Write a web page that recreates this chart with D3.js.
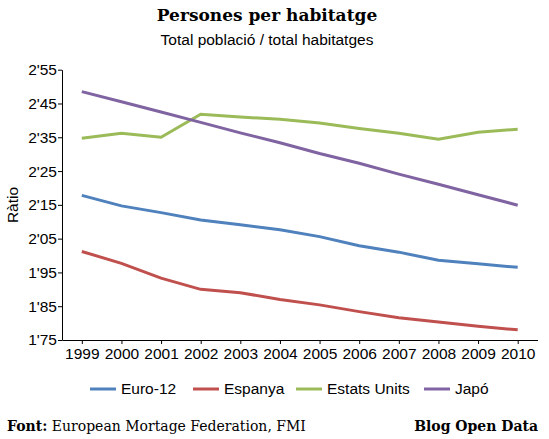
<!DOCTYPE html>
<meta charset="utf-8">
<style>
body { margin: 0; background: #fff; }
text { font-family: "Liberation Sans", Arial, sans-serif; }
</style>
<svg width="549" height="439"></svg>
<script src="https://cdn.jsdelivr.net/npm/d3@7"></script>
<script>

var years = ["1999","2000","2001","2002","2003","2004","2005","2006","2007","2008","2009","2010"];
var euro12 = [2.178,2.147,2.127,2.105,2.091,2.076,2.056,2.029,2.010,1.986,1.976,1.965];
var espanya = [2.012,1.977,1.933,1.900,1.890,1.870,1.854,1.834,1.816,1.803,1.791,1.780];
var estatsUnits = [2.347,2.362,2.350,2.418,2.410,2.403,2.392,2.376,2.362,2.344,2.365,2.374];
var japo = [2.485,2.455,2.425,2.394,2.363,2.334,2.302,2.273,2.241,2.211,2.180,2.149];
var yTicks = [1.75,1.85,1.95,2.05,2.15,2.25,2.35,2.45,2.55];

var series = [
  {name: "Euro-12", values: euro12, color: "#4f81bd"},
  {name: "Espanya", values: espanya, color: "#c0504d"},
  {name: "Estats Units", values: estatsUnits, color: "#9bbb59"},
  {name: "Japó", values: japo, color: "#8064a2"}
];

var svg = d3.select("svg");

var x = d3.scalePoint()
    .domain(years)
    .range([62, 537.5])
    .padding(0.5);

var y = d3.scaleLinear()
    .domain([1.75, 2.55])
    .range([340, 69.7]);

// titles
svg.append("text")
    .attr("x", 267).attr("y", 21)
    .attr("text-anchor", "middle")
    .style("font-family", "'DejaVu Serif', serif")
    .style("font-weight", "bold")
    .style("font-size", "17px")
    .text("Persones per habitatge");

svg.append("text")
    .attr("x", 267).attr("y", 45)
    .attr("text-anchor", "middle")
    .style("font-size", "15.5px")
    .text("Total població / total habitatges");

// axes
var yAxis = svg.append("g")
    .attr("transform", "translate(62,0)")
    .call(d3.axisLeft(y).tickValues(yTicks).tickSize(4).tickSizeOuter(0)
      .tickFormat(function(d) { return d3.format(".2f")(d).replace(".", "'"); }));

var xAxis = svg.append("g")
    .attr("transform", "translate(0,340)")
    .call(d3.axisBottom(x).tickSize(4).tickSizeOuter(0));

[yAxis, xAxis].forEach(function(g) {
  g.selectAll("text").style("font-size", "15.5px").attr("fill", "#000")
    .style("font-family", "'Liberation Sans', Arial, sans-serif");
  g.select(".domain").attr("stroke", "#000");
  g.selectAll(".tick line").attr("stroke", "#000");
});
yAxis.selectAll("text").attr("x", -5);
xAxis.selectAll("text").attr("y", 8);

svg.append("text")
    .attr("transform", "translate(18,205) rotate(-90)")
    .attr("text-anchor", "middle")
    .style("font-size", "15.5px")
    .text("Ràtio");

// lines
var line = d3.line()
    .x(function(d, i) { return x(years[i]); })
    .y(function(d) { return y(d); });

svg.selectAll(".serie")
  .data(series)
  .enter().append("path")
    .attr("class", "serie")
    .attr("fill", "none")
    .attr("stroke", function(d) { return d.color; })
    .attr("stroke-width", 3)
    .attr("d", function(d) { return line(d.values); });

// legend
var legendX = [90, 193, 296, 424];
var legend = svg.selectAll(".legend")
  .data(series)
  .enter().append("g")
    .attr("transform", function(d, i) { return "translate(" + legendX[i] + ",389)"; });

legend.append("line")
    .attr("x1", 0).attr("x2", 26)
    .attr("stroke", function(d) { return d.color; })
    .attr("stroke-width", 3);

legend.append("text")
    .attr("x", 31).attr("dy", "0.35em")
    .style("font-size", "15.5px")
    .text(function(d) { return d.name; });

// footer
var foot = svg.append("text")
    .attr("x", 7).attr("y", 431)
    .style("font-family", "'DejaVu Serif', serif")
    .style("font-size", "14px");
foot.append("tspan").style("font-weight", "bold").text("Font:");
foot.append("tspan").text(" European Mortage Federation, FMI");

svg.append("text")
    .attr("x", 538).attr("y", 431)
    .attr("text-anchor", "end")
    .style("font-family", "'DejaVu Serif', serif")
    .style("font-weight", "bold")
    .style("font-size", "14px")
    .text("Blog Open Data");

</script>
